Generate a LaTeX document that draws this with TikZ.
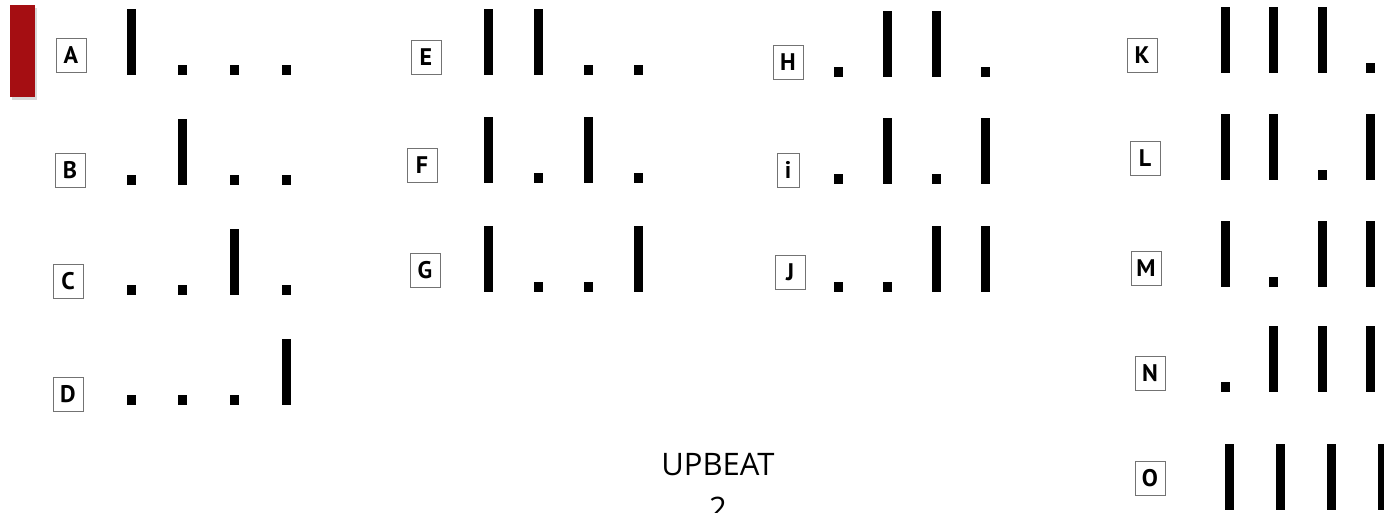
\documentclass[tikz,border=0pt]{standalone}
\usepackage{fontspec}
\usetikzlibrary{positioning,shadows}
\newfontfamily\lblfont{PT Sans}
\newfontfamily\slidefont{Open Sans}
\definecolor{tabred}{HTML}{A50E12}
\tikzset{
  lbl/.style={draw=black!55, fill=white, font=\lblfont\bfseries\fontsize{24}{24}\selectfont, inner sep=0pt, minimum width=30pt, minimum height=34pt},
  pagetxt/.style={font=\slidefont\fontsize{31}{31}\selectfont, inner sep=0pt},
  beat/.style={fill=black}}
% one row of beats: first x, step, bottom, list (1 = bar, 0 = dot)
\newcommand{\beats}[4]{\foreach \s [count=\k from 0] in {#4}
  \fill[beat] ({#1+\k*#2-4.5},#3) rectangle ++(9,{-10-56*\s});}

\begin{document}
\begin{tikzpicture}[x=1pt, y=-1pt]
\useasboundingbox (0,0) rectangle (1384,512);
\fill[tabred, drop shadow={shadow xshift=2pt, shadow yshift=-3pt, opacity=.3}] (10,5) rectangle (35,97);
% first column
\node[lbl] (A) at (71,55) {A};
\node[lbl] (B) at (70,170) {B};
\node[lbl] (C) at (68,281) {C};
\node[lbl] (D) at (68,394) {D};
\beats{131}{51.7}{75}{1,0,0,0}
\beats{131}{51.7}{185}{0,1,0,0}
\beats{131}{51.7}{295}{0,0,1,0}
\beats{131}{51.7}{405}{0,0,0,1}
% second column
\node[lbl] (E) at (426,57) {E};
\node[lbl] (F) at (422,165) {F};
\node[lbl] (G) at (425,270) {G};
\beats{488}{50}{75}{1,1,0,0}
\beats{488}{50}{183}{1,0,1,0}
\beats{488}{50}{292}{1,0,0,1}
% third column
\node[lbl] (H) at (788,62) {H};
\node[lbl, minimum width=22pt] (I) at (788,170) {i};
\node[lbl] (J) at (790,272) {J};
\beats{838}{49}{77}{0,1,1,0}
\beats{838}{49}{184}{0,1,0,1}
\beats{838}{49}{292}{0,0,1,1}
% fourth column
\node[lbl] (K) at (1142,55) {K};
\node[lbl] (L) at (1145,158) {L};
\node[lbl] (M) at (1146,268) {M};
\node[lbl] (N) at (1150,373) {N};
\node[lbl] (O) at (1150,478) {O};
\beats{1225}{48.5}{73}{1,1,1,0}
\beats{1225}{48.5}{180}{1,1,0,1}
\beats{1225}{48.5}{287}{1,0,1,1}
\beats{1225}{48.5}{392}{0,1,1,1}
\beats{1229}{51}{510}{1,1,1,1}
\node[pagetxt, anchor=base] (upbeat) at (718,475) {UPBEAT};
\node[pagetxt, anchor=base] (pagenum) at (718,519) {2};
\end{tikzpicture}
\end{document}
